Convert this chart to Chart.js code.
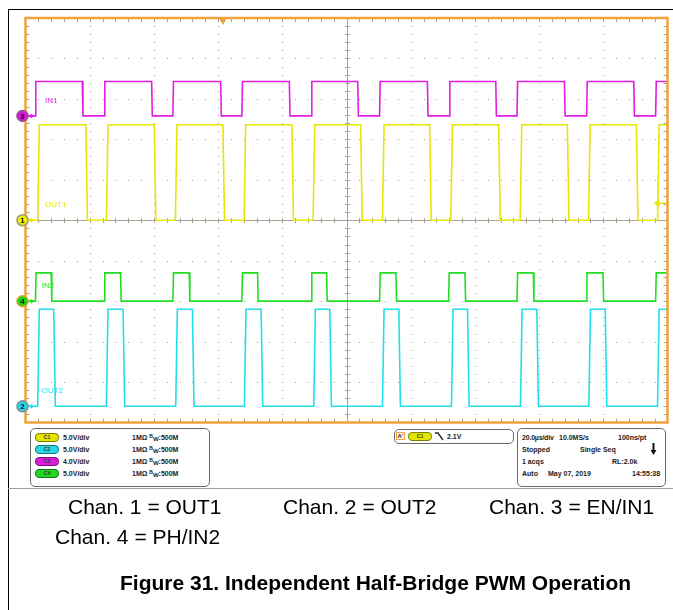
<!DOCTYPE html>
<html>
<head>
<meta charset="utf-8">
<script src="https://cdn.jsdelivr.net/npm/chart.js@4.4.1/dist/chart.umd.min.js"></script>
<style>
  html, body { margin:0; padding:0; background:#fff; }
  #page { position:relative; width:673px; height:610px; overflow:hidden; font-family:"Liberation Sans", Arial, sans-serif; color:#000; }
  #frameTop { position:absolute; left:8px; top:9px; width:665px; height:0; border-top:1.5px solid #000; }
  #frameLeft { position:absolute; left:8px; top:9px; width:0; height:601px; border-left:1.5px solid #000; }
  #scopeCanvas { position:absolute; left:0; top:0; }
  .box { position:absolute; border:1px solid #6a6a6a; border-radius:5px; background:#fff; box-sizing:border-box; }
  .t { position:absolute; font:bold 7px "Liberation Sans", Arial, sans-serif; color:#1a1a1a; white-space:nowrap; line-height:8px; }
  .pill { position:absolute; width:24px; height:9px; border-radius:5px; box-sizing:border-box; border:1px solid rgba(0,0,0,0.45);
          font:bold 5px "Liberation Sans", Arial, sans-serif; line-height:7px; text-align:center; color:#333; }
  .sup { font-size:5px; position:relative; top:-2px; }
  .sub { font-size:6px; position:relative; top:1px; }
  #rule { position:absolute; left:8px; top:488px; width:665px; height:0; border-top:1px solid #a0a0a0; }
  .cap { position:absolute; font:21px "Liberation Sans", Arial, sans-serif; line-height:21px; white-space:nowrap; color:#000; }
  .title { position:absolute; font:bold 21px "Liberation Sans", Arial, sans-serif; line-height:21px; white-space:nowrap; color:#000; }
</style>
</head>
<body>
<div id="page">
  <canvas id="scopeCanvas" width="673" height="610"></canvas>
  <div id="frameTop"></div>
  <div id="frameLeft"></div>

  <!-- vertical channel settings -->
  <div class="box" style="left:30px; top:428px; width:180px; height:59px;"></div>
  <div class="pill" style="left:35px; top:433px; background:#e4e400;">C1</div>
  <div class="t" style="left:63px; top:434px;">5.0V/div</div>
  <div class="t" style="left:132px; top:434px;">1MΩ <span class="sup">B</span><span class="sub">W</span>:500M</div>
  <div class="pill" style="left:35px; top:445px; background:#26d8e4;">C2</div>
  <div class="t" style="left:63px; top:446px;">5.0V/div</div>
  <div class="t" style="left:132px; top:446px;">1MΩ <span class="sup">B</span><span class="sub">W</span>:500M</div>
  <div class="pill" style="left:35px; top:457px; background:#dc1edc;">C3</div>
  <div class="t" style="left:63px; top:458px;">4.0V/div</div>
  <div class="t" style="left:132px; top:458px;">1MΩ <span class="sup">B</span><span class="sub">W</span>:500M</div>
  <div class="pill" style="left:35px; top:469px; background:#22d622;">C4</div>
  <div class="t" style="left:63px; top:470px;">5.0V/div</div>
  <div class="t" style="left:132px; top:470px;">1MΩ <span class="sup">B</span><span class="sub">W</span>:500M</div>

  <!-- trigger settings -->
  <div class="box" style="left:394px; top:429px; width:120px; height:15px;"></div>
  <div class="t" style="left:396px; top:432px; width:9px; height:8px; border:1px solid #f0a040; box-sizing:border-box; font-size:6px; line-height:6px; text-align:center;">A'</div>
  <div class="pill" style="left:408px; top:432px; background:#e4e400;">C1</div>
  <svg style="position:absolute; left:435px; top:432px;" width="10" height="9"><polyline points="0,1 3,1 8,8" fill="none" stroke="#222" stroke-width="1.3"/></svg>
  <div class="t" style="left:447px; top:433px;">2.1V</div>

  <!-- acquisition settings -->
  <div class="box" style="left:517px; top:428px; width:149px; height:59px;"></div>
  <div class="t" style="left:522px; top:434px; letter-spacing:-0.2px;">20.0µs/div</div>
  <div class="t" style="left:559px; top:434px;">10.0MS/s</div>
  <div class="t" style="left:618px; top:434px;">100ns/pt</div>
  <div class="t" style="left:522px; top:446px;">Stopped</div>
  <div class="t" style="left:580px; top:446px;">Single Seq</div>
  <svg style="position:absolute; left:650px; top:443px;" width="7" height="12"><line x1="3.5" y1="0" x2="3.5" y2="8" stroke="#111" stroke-width="2"/><polygon points="0.5,7 6.5,7 3.5,12" fill="#111"/></svg>
  <div class="t" style="left:522px; top:458px;">1 acqs</div>
  <div class="t" style="left:612px; top:458px;">RL:2.0k</div>
  <div class="t" style="left:522px; top:470px;">Auto</div>
  <div class="t" style="left:548px; top:470px;">May 07, 2019</div>
  <div class="t" style="left:632px; top:470px;">14:55:38</div>

  <div id="rule"></div>

  <div class="cap" style="left:68px; top:496px;">Chan. 1 = OUT1</div>
  <div class="cap" style="left:283px; top:496px;">Chan. 2 = OUT2</div>
  <div class="cap" style="left:489px; top:496px;">Chan. 3 = EN/IN1</div>
  <div class="cap" style="left:55px; top:526px;">Chan. 4 = PH/IN2</div>
  <div class="title" style="left:120px; top:572px;">Figure 31. Independent Half-Bridge PWM Operation</div>
</div>

<script>
// Horizontal: 20 µs/div over 10 divisions; vertical: 10 divisions
const timeDivUs = 20;
const timeSpanUs = [0, 200];
const vertSpanDiv = [-5, 5];

// Channel setup (1 = OUT1, 2 = OUT2, 3 = EN/IN1, 4 = PH/IN2)
const channelNumbers = [1, 2, 3, 4];
const channelLabels = ['OUT1', 'OUT2', 'IN1', 'IN2'];
const channelVoltsPerDiv = [5.0, 5.0, 4.0, 5.0];
const channelOffsetDiv = [0.0, -4.6, 2.58, -2.0];
const channelLowV = [0, 0, 0, 0];
const channelHighV = [11.8, 12.0, 3.4, 3.5];

// Edge times in µs from the left of the record; the first edge is rising, then alternating
const out1EdgesUs = [3.8, 18.8, 25.2, 40.1, 46.7, 61.5, 68.1, 83.0, 89.6, 104.4, 111.2, 125.9, 132.5, 147.4, 154.1, 168.8, 175.4, 190.3, 196.9];
const out2EdgesUs = [3.8, 8.8, 25.2, 30.4, 46.8, 52.0, 68.2, 73.4, 89.8, 94.8, 111.2, 116.3, 132.7, 137.7, 154.2, 159.3, 175.5, 180.6, 196.9];
const in1EdgesUs  = [3.0, 17.7, 24.5, 39.3, 45.9, 60.8, 67.4, 82.2, 89.0, 103.5, 110.3, 125.2, 132.0, 146.5, 153.1, 167.9, 174.8, 189.5, 196.3];
const in2EdgesUs  = [3.1, 8.0, 24.5, 29.6, 45.9, 51.0, 67.4, 72.3, 89.0, 93.8, 110.3, 115.4, 131.8, 136.9, 153.1, 158.2, 174.7, 179.9, 196.3];
const channelEdges = [out1EdgesUs, out2EdgesUs, in1EdgesUs, in2EdgesUs];

// Trigger: C1 falling edge at 2.1 V
const triggerTimeUs = 61.5;
const triggerLevelV = 2.1;

// Display styling
const traceColors  = ['#e6e600', '#22dfea', '#e21ee2', '#22de22'];
const markerColors = ['#f2f200', '#2ad8e8', '#dd16dd', '#18d818'];
const markerRings  = ['#9a9a7a', '#7a8e94', '#8a5a8a', '#e0a030'];
const edgeSlewUs   = [0.5, 0.5, 0.2, 0.2];
const labelStyle = { timeUs: [6.1, 5.1, 6.1, 5.1], raiseDiv: 0.38, font: '8px "Liberation Sans", Arial, sans-serif' };
const frameColor = '#f0a23c';
const gridColor = '#a9a396';
const dotColor = '#9c9c9c';

function toDiv(ch, volts) {
  return channelOffsetDiv[ch] + volts / channelVoltsPerDiv[ch];
}

// Step waveform from the edge list of one channel
function tracePoints(ch) {
  const lo = toDiv(ch, channelLowV[ch]);
  const hi = toDiv(ch, channelHighV[ch]);
  const pts = [{ x: timeSpanUs[0], y: lo }];
  let level = lo;
  for (const e of channelEdges[ch]) {
    pts.push({ x: e, y: level });
    level = level === lo ? hi : lo;
    pts.push({ x: e + edgeSlewUs[ch], y: level });
  }
  pts.push({ x: timeSpanUs[1], y: level });
  return pts;
}

const graticule = {
  id: 'graticule',
  beforeDatasetsDraw(chart) {
    const { ctx, chartArea: a, scales: { x, y } } = chart;
    const nX = (timeSpanUs[1] - timeSpanUs[0]) / timeDivUs;
    const nY = vertSpanDiv[1] - vertSpanDiv[0];
    ctx.save();
    // dotted division lines
    ctx.fillStyle = dotColor;
    for (let i = 1; i < nX; i++) {
      if (i === nX / 2) continue;
      const px = Math.round(x.getPixelForValue(timeSpanUs[0] + i * timeDivUs));
      for (let j = 1; j < nY * 5; j++) {
        const py = Math.round(y.getPixelForValue(vertSpanDiv[0] + j * 0.2));
        ctx.fillRect(px, py, 1, 1);
      }
    }
    for (let j = 1; j < nY; j++) {
      if (j === nY / 2) continue;
      const py = Math.round(y.getPixelForValue(vertSpanDiv[0] + j));
      for (let i = 1; i < nX * 5; i++) {
        const px = Math.round(x.getPixelForValue(timeSpanUs[0] + i * timeDivUs / 5));
        ctx.fillRect(px, py, 1, 1);
      }
    }
    // centre cross with minor ticks
    ctx.strokeStyle = gridColor;
    ctx.lineWidth = 1;
    const cx = Math.round(x.getPixelForValue((timeSpanUs[0] + timeSpanUs[1]) / 2)) + 0.5;
    const cy = Math.round(y.getPixelForValue(0)) + 0.5;
    ctx.beginPath();
    ctx.moveTo(cx, a.top); ctx.lineTo(cx, a.bottom);
    ctx.moveTo(a.left, cy); ctx.lineTo(a.right, cy);
    for (let i = 1; i < nX * 5; i++) {
      const px = Math.round(x.getPixelForValue(timeSpanUs[0] + i * timeDivUs / 5)) + 0.5;
      ctx.moveTo(px, cy - 2.5); ctx.lineTo(px, cy + 2.5);
      ctx.moveTo(px, a.top); ctx.lineTo(px, a.top + 4);
      ctx.moveTo(px, a.bottom); ctx.lineTo(px, a.bottom - 4);
    }
    for (let j = 1; j < nY * 5; j++) {
      const py = Math.round(y.getPixelForValue(vertSpanDiv[0] + j * 0.2)) + 0.5;
      ctx.moveTo(cx - 2.5, py); ctx.lineTo(cx + 2.5, py);
      ctx.moveTo(a.left, py); ctx.lineTo(a.left + 4, py);
      ctx.moveTo(a.right, py); ctx.lineTo(a.right - 4, py);
    }
    ctx.stroke();
    ctx.restore();
  },
  afterDatasetsDraw(chart) {
    const { ctx, chartArea: a, scales: { x, y } } = chart;
    ctx.save();
    // trace names
    ctx.font = labelStyle.font;
    ctx.textBaseline = 'middle';
    ctx.textAlign = 'left';
    channelLabels.forEach((name, ch) => {
      ctx.fillStyle = traceColors[ch];
      ctx.fillText(name, x.getPixelForValue(labelStyle.timeUs[ch]),
        y.getPixelForValue(channelOffsetDiv[ch] + labelStyle.raiseDiv));
    });
    // graticule frame
    ctx.strokeStyle = frameColor;
    ctx.lineWidth = 2.5;
    ctx.strokeRect(a.left, a.top, a.right - a.left, a.bottom - a.top);
    // trigger position marker
    const tx = x.getPixelForValue(triggerTimeUs);
    ctx.fillStyle = frameColor;
    ctx.beginPath();
    ctx.moveTo(tx - 4, a.top); ctx.lineTo(tx + 4, a.top); ctx.lineTo(tx, a.top + 7); ctx.closePath();
    ctx.fill();
    // trigger level marker on C1
    const ty = y.getPixelForValue(toDiv(0, triggerLevelV));
    ctx.strokeStyle = traceColors[0];
    ctx.fillStyle = traceColors[0];
    ctx.lineWidth = 1.5;
    ctx.beginPath(); ctx.moveTo(a.right - 1, ty); ctx.lineTo(a.right - 9, ty); ctx.stroke();
    ctx.beginPath(); ctx.moveTo(a.right - 14, ty); ctx.lineTo(a.right - 8, ty - 4); ctx.lineTo(a.right - 8, ty + 4); ctx.closePath(); ctx.fill();
    // channel ground markers
    channelNumbers.forEach((num, ch) => {
      const my = y.getPixelForValue(channelOffsetDiv[ch]);
      const mx = a.left - 3;
      ctx.strokeStyle = traceColors[ch];
      ctx.fillStyle = traceColors[ch];
      ctx.lineWidth = 1.2;
      ctx.beginPath(); ctx.moveTo(mx + 5, my); ctx.lineTo(a.left + 6, my); ctx.stroke();
      ctx.beginPath(); ctx.moveTo(a.left + 9, my); ctx.lineTo(a.left + 5, my - 2.5); ctx.lineTo(a.left + 5, my + 2.5); ctx.closePath(); ctx.fill();
      ctx.beginPath();
      ctx.arc(mx, my, 5.5, 0, Math.PI * 2);
      ctx.fillStyle = markerColors[ch];
      ctx.fill();
      ctx.lineWidth = 1.5;
      ctx.strokeStyle = markerRings[ch];
      ctx.stroke();
      ctx.fillStyle = '#111';
      ctx.font = 'bold 8px "Liberation Sans", Arial, sans-serif';
      ctx.textAlign = 'center';
      ctx.textBaseline = 'middle';
      ctx.fillText(String(num), mx, my + 0.5);
    });
    ctx.restore();
  }
};

new Chart(document.getElementById('scopeCanvas'), {
  type: 'line',
  data: {
    datasets: channelLabels.map((name, ch) => ({
      label: name,
      data: tracePoints(ch),
      borderColor: traceColors[ch],
      borderWidth: 1.6,
      pointRadius: 0,
      tension: 0,
      fill: false
    }))
  },
  options: {
    responsive: false,
    animation: false,
    events: [],
    layout: { padding: { left: 25.5, top: 18, right: 5.5, bottom: 187.5 } },
    plugins: { legend: { display: false }, tooltip: { enabled: false } },
    scales: {
      x: { type: 'linear', min: timeSpanUs[0], max: timeSpanUs[1], display: false },
      y: { type: 'linear', min: vertSpanDiv[0], max: vertSpanDiv[1], display: false }
    }
  },
  plugins: [graticule]
});
</script>
</body>
</html>
